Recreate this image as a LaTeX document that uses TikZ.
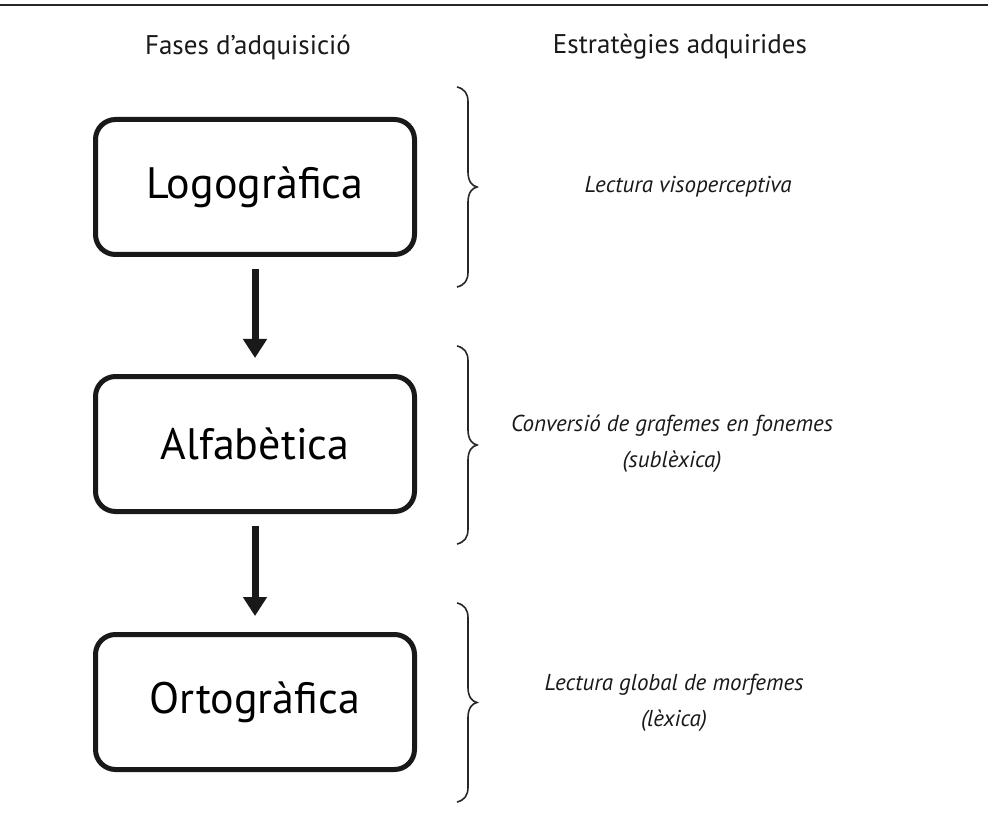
\documentclass[tikz,border=0pt]{standalone}
\usepackage{fontspec}
\setmainfont{PT Sans}
\usetikzlibrary{arrows.meta}

\tikzset{
  phasebox/.style={draw=black!90, line width=5pt, rounded corners=20pt,
    minimum width=319pt, minimum height=135pt, inner sep=0pt,
    font=\fontsize{44}{48}\selectfont},
  flowarrow/.style={draw=black!90, line width=7pt,
    -{Triangle[width=23pt,length=19pt]}},
  heading/.style={font=\fontsize{27}{30}\selectfont, text=black!90},
  strategy/.style={font=\itshape\fontsize{23}{36}\selectfont, align=center,
    text=black!90},
  bracestroke/.style={draw=black!85, line width=1.6pt}
}

% curly brace opening to the right: x of the spine, top, bottom
\newcommand{\rightbrace}[3]{%
  \pgfmathsetmacro{\bmid}{(#2+#3)/2}%
  \draw[bracestroke] (#1-11,#2) .. controls (#1-3,#2+2) and (#1,#2+7) .. (#1,#2+15)
    -- (#1,\bmid-15) .. controls (#1,\bmid-6) and (#1+4,\bmid-1) .. (#1+9,\bmid)
    .. controls (#1+4,\bmid+1) and (#1,\bmid+6) .. (#1,\bmid+15)
    -- (#1,#3-15) .. controls (#1,#3-7) and (#1-3,#3-2) .. (#1-11,#3);%
}

\begin{document}
\begin{tikzpicture}[x=1pt, y=-1pt]
  \useasboundingbox (0,0) rectangle (988,818);

  % rule across the top
  \draw[black!85, line width=1.6pt] (0,5) -- (988,5);

  % column headings
  \node[heading] (hphase) at (248,47) {Fases d’adquisició};
  \node[heading] (hstrat) at (680,47) {Estratègies adquirides};

  % the three phases
  \node[phasebox] (logo) at (255,187) {Logogràfica};
  \node[phasebox] (alfa) at (255,444) {Alfabètica};
  \node[phasebox] (orto) at (255,702) {Ortogràfica};

  \draw[flowarrow, shorten <=12pt, shorten >=16pt] (logo.south) -- (alfa.north);
  \draw[flowarrow, shorten <=12pt, shorten >=16pt] (alfa.south) -- (orto.north);

  % braces grouping each phase with its strategy
  \rightbrace{468}{87}{287}
  \rightbrace{468}{346}{544}
  \rightbrace{468}{603}{802}

  % strategies
  \node[strategy] (s1) at (688,187) {Lectura visoperceptiva};
  \node[strategy] (s2) at (672,444) {Conversió de grafemes en fonemes\\(sublèxica)};
  \node[strategy] (s3) at (674,703) {Lectura global de morfemes\\(lèxica)};
\end{tikzpicture}
\end{document}
